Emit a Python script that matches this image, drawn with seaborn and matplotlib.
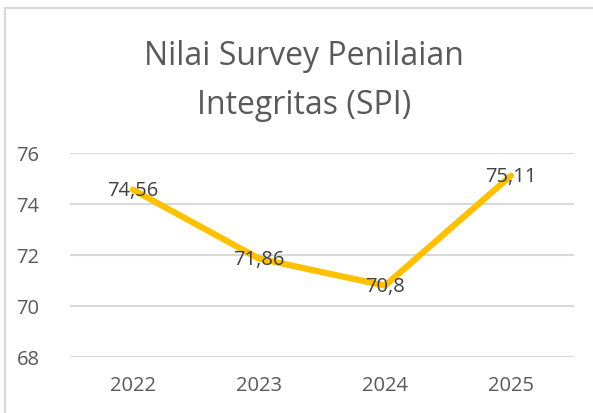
import matplotlib
matplotlib.use("Agg")
import matplotlib.pyplot as plt
import seaborn as sns
import pandas as pd
from matplotlib.patches import Rectangle

years = ["2022", "2023", "2024", "2025"]
scores = [74.56, 71.86, 70.8, 75.11]
score_labels = ["74,56", "71,86", "70,8", "75,11"]
y_ticks = [68, 70, 72, 74, 76]

df = pd.DataFrame({"Tahun": years, "Nilai": scores})

sns.set_style("white")
plt.rcParams["font.family"] = ["Open Sans", "DejaVu Sans"]

fig = plt.figure(figsize=(5.93, 4.14), dpi=100)
ax = fig.add_axes([70 / 593, 1 - 358 / 414, 504 / 593, 204 / 414])

# frame around the chart area (cut off at right and bottom)
fig.patches.append(Rectangle((5 / 593, -0.1), 1.2, 1 - 9 / 414 + 0.1,
                             transform=fig.transFigure, fill=False,
                             edgecolor="#D9D9D9", linewidth=1.5))

sns.lineplot(data=df, x="Tahun", y="Nilai", ax=ax, color="#FFC000",
             linewidth=4.5, sort=False)

for i, (v, lab) in enumerate(zip(scores, score_labels)):
    ax.text(i, v, lab, ha="center", va="center", fontsize=14.5, color="#404040")

ax.set_xlim(-0.5, 3.5)
ax.set_ylim(68, 76)
ax.set_yticks(y_ticks)
ax.yaxis.grid(True, color="#D9D9D9", linewidth=1.5)
ax.set_axisbelow(True)
for s in ax.spines.values():
    s.set_visible(False)
ax.tick_params(axis="both", length=0, labelsize=14.5, labelcolor="#595959")
ax.tick_params(axis="y", pad=22)
ax.tick_params(axis="x", pad=13)
ax.set_xlabel("")
ax.set_ylabel("")

fig.text(304 / 593, 1 - 57 / 414, "Nilai Survey Penilaian", ha="center",
         va="center", fontsize=23, color="#595959")
fig.text(304 / 593, 1 - 106 / 414, "Integritas (SPI)", ha="center",
         va="center", fontsize=23, color="#595959")

fig.savefig("out.png", dpi=100)
